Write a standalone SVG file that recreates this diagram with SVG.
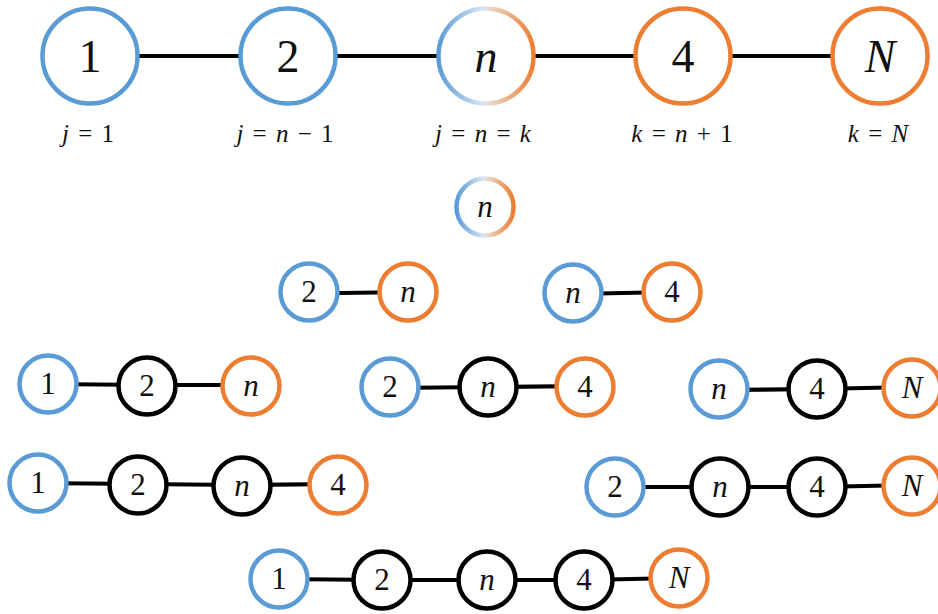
<svg xmlns="http://www.w3.org/2000/svg" width="938" height="614" viewBox="0 0 938 614">
  <style>
    .big { fill: #fff; stroke-width: 4.5; }
    .sm { fill: #fff; stroke-width: 4.5; }
    .blue { stroke: #5B9BD5; }
    .orange { stroke: #ED7D31; }
    .black { stroke: #000; }
    .grad { stroke: url(#mix); }
    .edge line { stroke: #000; stroke-width: 4.2; }
    text { font-family: Liberation Serif, Times New Roman, Times, serif; fill: #111; text-anchor: middle; }
    .lb { font-size: 46px; }
    .ls { font-size: 31px; }
    .v { font-style: italic; }
    .eq { font-size: 25px; word-spacing: 3px; }
  </style>
  <defs>
    <linearGradient id="mix" x1="0" y1="0" x2="1" y2="0">
      <stop offset="0" stop-color="#5B9BD5"/>
      <stop offset="0.47" stop-color="#d8e6f4"/>
      <stop offset="0.55" stop-color="#e8d6c8"/>
      <stop offset="1" stop-color="#ED7D31"/>
    </linearGradient>
  </defs>

  <!-- connectors -->
  <g class="edge">
    <!-- full chain -->
    <line x1="90" y1="56" x2="288" y2="56"/>
    <line x1="288" y1="56" x2="486" y2="56"/>
    <line x1="486" y1="56" x2="683" y2="56"/>
    <line x1="683" y1="56" x2="880" y2="56"/>
    <!-- pairs -->
    <line x1="309" y1="293.5" x2="408" y2="292"/>
    <line x1="573" y1="294" x2="672" y2="292"/>
    <!-- triples -->
    <line x1="48" y1="384" x2="147" y2="385"/>
    <line x1="147" y1="385" x2="251" y2="385"/>
    <line x1="390" y1="388" x2="488" y2="387"/>
    <line x1="488" y1="387" x2="585" y2="386"/>
    <line x1="719" y1="390" x2="817" y2="389"/>
    <line x1="817" y1="389" x2="912" y2="387"/>
    <!-- quadruples -->
    <line x1="38" y1="483" x2="138" y2="484"/>
    <line x1="138" y1="484" x2="242" y2="485"/>
    <line x1="242" y1="485" x2="338" y2="484"/>
    <line x1="615" y1="487" x2="720" y2="487"/>
    <line x1="720" y1="487" x2="817" y2="487"/>
    <line x1="817" y1="487" x2="912" y2="485"/>
    <!-- quintuple -->
    <line x1="279" y1="579" x2="382" y2="580"/>
    <line x1="382" y1="580" x2="487" y2="580"/>
    <line x1="487" y1="580" x2="584" y2="580"/>
    <line x1="584" y1="580" x2="679" y2="578"/>
  </g>

  <!-- full chain nodes -->
  <g id="t1"><circle class="big blue" cx="90" cy="56" r="47.5"/><text class="lb" x="90" y="72">1</text></g>
  <g id="t2"><circle class="big blue" cx="288" cy="56" r="47.5"/><text class="lb" x="288" y="72">2</text></g>
  <g id="tn"><circle class="big grad" cx="486" cy="56" r="47.5"/><text class="lb v" x="486" y="72">n</text></g>
  <g id="t4"><circle class="big orange" cx="683" cy="56" r="47.5"/><text class="lb" x="683" y="72">4</text></g>
  <g id="tN"><circle class="big orange" cx="880" cy="56" r="47.5"/><text class="lb v" x="880" y="72">N</text></g>

  <!-- index labels -->
  <g id="labels">
    <text class="eq" x="88" y="142"><tspan class="v">j</tspan> = 1</text>
    <text class="eq" x="285" y="142"><tspan class="v">j</tspan> = <tspan class="v">n</tspan> − 1</text>
    <text class="eq" x="483" y="142"><tspan class="v">j</tspan> = <tspan class="v">n</tspan> = <tspan class="v">k</tspan></text>
    <text class="eq" x="682" y="142"><tspan class="v">k</tspan> = <tspan class="v">n</tspan> + 1</text>
    <text class="eq" x="878" y="142"><tspan class="v">k</tspan> = <tspan class="v">N</tspan></text>
  </g>

  <!-- single -->
  <g id="s1"><circle class="sm grad" cx="485" cy="207" r="28.5"/><text class="ls v" x="485" y="217">n</text></g>

  <!-- pairs -->
  <g id="p1a"><circle class="sm blue" cx="309" cy="292" r="28.5"/><text class="ls" x="309" y="302">2</text></g>
  <g id="p1b"><circle class="sm orange" cx="408" cy="292" r="28.5"/><text class="ls v" x="408" y="302">n</text></g>
  <g id="p2a"><circle class="sm blue" cx="573" cy="293" r="28.5"/><text class="ls v" x="573" y="303">n</text></g>
  <g id="p2b"><circle class="sm orange" cx="672" cy="292" r="28.5"/><text class="ls" x="672" y="302">4</text></g>

  <!-- triples -->
  <g id="r1a"><circle class="sm blue" cx="48" cy="384" r="28.5"/><text class="ls" x="48" y="394">1</text></g>
  <g id="r1b"><circle class="sm black" cx="147" cy="386" r="28.5"/><text class="ls" x="147" y="396">2</text></g>
  <g id="r1c"><circle class="sm orange" cx="251" cy="386" r="28.5"/><text class="ls v" x="251" y="396">n</text></g>
  <g id="r2a"><circle class="sm blue" cx="390" cy="387" r="28.5"/><text class="ls" x="390" y="397">2</text></g>
  <g id="r2b"><circle class="sm black" cx="488" cy="387" r="28.5"/><text class="ls v" x="488" y="397">n</text></g>
  <g id="r2c"><circle class="sm orange" cx="585" cy="387" r="28.5"/><text class="ls" x="585" y="397">4</text></g>
  <g id="r3a"><circle class="sm blue" cx="719" cy="389" r="28.5"/><text class="ls v" x="719" y="399">n</text></g>
  <g id="r3b"><circle class="sm black" cx="817" cy="389" r="28.5"/><text class="ls" x="817" y="399">4</text></g>
  <g id="r3c"><circle class="sm orange" cx="912" cy="388" r="28.5"/><text class="ls v" x="912" y="398">N</text></g>

  <!-- quadruples -->
  <g id="q1a"><circle class="sm blue" cx="38" cy="483" r="28.5"/><text class="ls" x="38" y="493">1</text></g>
  <g id="q1b"><circle class="sm black" cx="138" cy="485" r="28.5"/><text class="ls" x="138" y="495">2</text></g>
  <g id="q1c"><circle class="sm black" cx="242" cy="486" r="28.5"/><text class="ls v" x="242" y="496">n</text></g>
  <g id="q1d"><circle class="sm orange" cx="338" cy="485" r="28.5"/><text class="ls" x="338" y="495">4</text></g>
  <g id="q2a"><circle class="sm blue" cx="615" cy="487" r="28.5"/><text class="ls" x="615" y="497">2</text></g>
  <g id="q2b"><circle class="sm black" cx="720" cy="487" r="28.5"/><text class="ls v" x="720" y="497">n</text></g>
  <g id="q2c"><circle class="sm black" cx="817" cy="487" r="28.5"/><text class="ls" x="817" y="497">4</text></g>
  <g id="q2d"><circle class="sm orange" cx="912" cy="486" r="28.5"/><text class="ls v" x="912" y="496">N</text></g>

  <!-- quintuple -->
  <g id="f1"><circle class="sm blue" cx="279" cy="579" r="28.5"/><text class="ls" x="279" y="589">1</text></g>
  <g id="f2"><circle class="sm black" cx="382" cy="580" r="28.5"/><text class="ls" x="382" y="590">2</text></g>
  <g id="f3"><circle class="sm black" cx="487" cy="580" r="28.5"/><text class="ls v" x="487" y="590">n</text></g>
  <g id="f4"><circle class="sm black" cx="584" cy="580" r="28.5"/><text class="ls" x="584" y="590">4</text></g>
  <g id="f5"><circle class="sm orange" cx="679" cy="578" r="28.5"/><text class="ls v" x="679" y="588">N</text></g>
</svg>
